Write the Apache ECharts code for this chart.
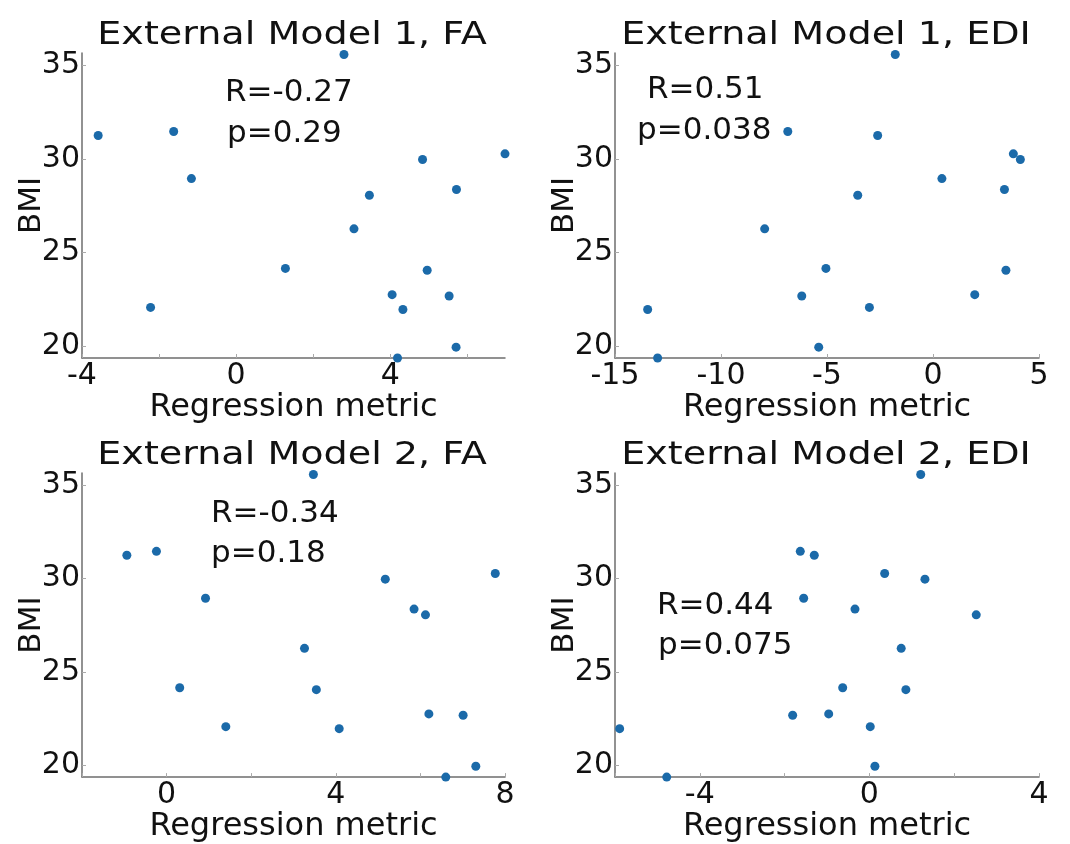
<!DOCTYPE html>
<html>
<head>
<meta charset="utf-8">
<script src="https://cdn.jsdelivr.net/npm/echarts@6/dist/echarts.min.js"></script>
<style>
html,body{margin:0;padding:0;background:#fff;}
#chart{width:1070px;height:844px;}
</style>
</head>
<body>
<div id="chart"></div>
<script>
// ---- data ----
const panelTitles = ['External Model 1, FA', 'External Model 1, EDI', 'External Model 2, FA', 'External Model 2, EDI'];
const statR = ['R=-0.27', 'R=0.51', 'R=-0.34', 'R=0.44'];
const statP = ['p=0.29', 'p=0.038', 'p=0.18', 'p=0.075'];
const xName = 'Regression metric';
const yName = 'BMI';
const bmi = [35.57, 31.46, 31.25, 30.27, 29.97, 28.95, 28.37, 28.06, 26.27, 24.16, 24.06, 22.76, 22.69, 22.08, 21.97, 19.96, 19.38];
const m1FA  = [2.80, -1.62, -3.58, 6.98, 4.84, -1.16, 5.72, 3.46, 3.06, 1.28, 4.96, 4.05, 5.53, -2.22, 4.33, 5.71, 4.19];
const m1EDI = [-1.78, -6.85, -2.61, 3.79, 4.12, 0.42, 3.37, -3.55, -7.94, -5.05, 3.44, 1.97, -6.19, -3.00, -13.46, -5.39, -12.99];
const m2FA  = [3.47, -0.24, -0.94, 7.77, 5.17, 0.92, 5.85, 6.12, 3.26, 0.31, 3.54, 6.20, 7.01, 1.40, 4.08, 7.31, 6.60];
const m2EDI = [1.21, -1.63, -1.30, 0.36, 1.31, -1.55, -0.34, 2.52, 0.75, -0.63, 0.86, -0.96, -1.81, 0.02, -5.89, 0.13, -4.78];
const xSeries = [m1FA, m1EDI, m2FA, m2EDI];
const xRanges = [[-4, 6.98], [-15, 5], [-2, 8], [-6, 4]];
const xTicks = [[-4, -2, 0, 2, 4, 6], [-15, -10, -5, 0, 5], [-2, 0, 2, 4, 6, 8], [-6, -4, -2, 0, 2, 4]];
const xLabels = [[-4, 0, 4], [-15, -10, -5, 0, 5], [0, 4, 8], [-4, 0, 4]];
const yRange = [19.38, 35.65];
const yTicks = [20, 25, 30, 35];

// ---- layout ----
const grids = [
  {left: 82, right: 565, top: 53, bottom: 486},
  {left: 615, right: 31, top: 53, bottom: 486},
  {left: 82, right: 565, top: 473, bottom: 66},
  {left: 615, right: 31, top: 473, bottom: 66}
];
const titlePos = [[292, 36], [826, 36], [292, 456], [826, 456]];
const rPos = [[225, 93], [647, 90], [211, 514], [657, 606]];
const pPos = [[227, 134], [637, 131], [211, 554], [658, 646]];

const FONT = '"DejaVu Sans", Verdana, sans-serif';
const TXT = '#111';
const AX = '#6e6e6e';

const xAxes = [], yAxes = [], series = [], graphics = [];
for (let i = 0; i < 4; i++) {
  xAxes.push({
    type: 'value', gridIndex: i, min: xRanges[i][0], max: xRanges[i][1],
    name: xName, nameLocation: 'middle', nameGap: 29,
    nameTextStyle: {fontFamily: FONT, fontSize: 32, color: TXT},
    axisLine: {show: true, onZero: false, lineStyle: {color: AX, width: 1.5}},
    axisTick: {show: true, inside: true, length: 4, customValues: xTicks[i], lineStyle: {color: '#aaa'}},
    axisLabel: {customValues: xLabels[i], fontFamily: FONT, fontSize: 30, color: TXT, margin: 3},
    splitLine: {show: false}
  });
  yAxes.push({
    type: 'value', gridIndex: i, min: yRange[0], max: yRange[1],
    name: yName, nameLocation: 'middle', nameGap: 35, nameRotate: 90, nameMoveOverlap: false,
    nameTextStyle: {fontFamily: FONT, fontSize: 31, color: TXT},
    axisLine: {show: true, onZero: false, lineStyle: {color: AX, width: 1.5}},
    axisTick: {show: true, inside: true, length: 4, customValues: yTicks, lineStyle: {color: '#aaa'}},
    axisLabel: {customValues: yTicks, fontFamily: FONT, fontSize: 30, color: TXT, margin: 2},
    splitLine: {show: false}
  });
  series.push({
    type: 'scatter', xAxisIndex: i, yAxisIndex: i, clip: false,
    symbolSize: 9, itemStyle: {color: '#1b6aa9', opacity: 1},
    data: xSeries[i].map((x, k) => [x, bmi[k]])
  });
  graphics.push({
    type: 'text', x: titlePos[i][0], y: titlePos[i][1], scaleX: 1.19,
    style: {text: panelTitles[i], font: '32px ' + FONT, fill: TXT, align: 'center', verticalAlign: 'middle'}
  });
  graphics.push({
    type: 'text', x: rPos[i][0], y: rPos[i][1],
    style: {text: statR[i], font: '31px ' + FONT, fill: TXT, align: 'left', verticalAlign: 'middle'}
  });
  graphics.push({
    type: 'text', x: pPos[i][0], y: pPos[i][1],
    style: {text: statP[i], font: '31px ' + FONT, fill: TXT, align: 'left', verticalAlign: 'middle'}
  });
}

const chart = echarts.init(document.getElementById('chart'), null, {renderer: 'canvas'});
chart.setOption({
  animation: false,
  backgroundColor: '#fff',
  grid: grids,
  xAxis: xAxes,
  yAxis: yAxes,
  series: series,
  graphic: graphics
});
</script>
</body>
</html>
